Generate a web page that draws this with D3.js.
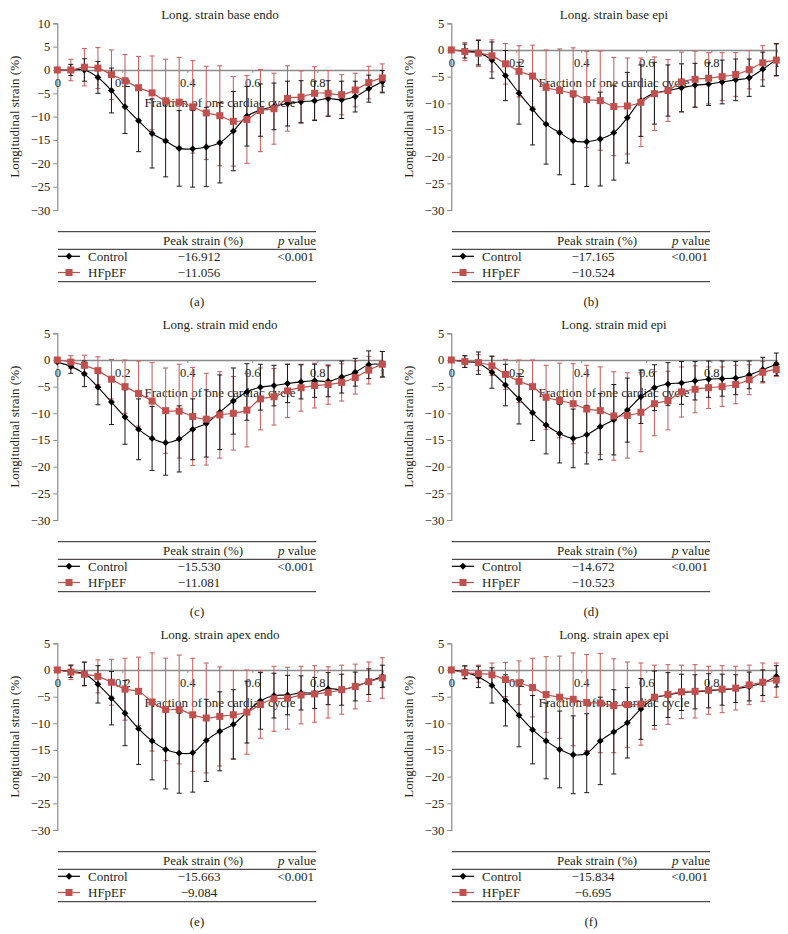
<!DOCTYPE html>
<html><head><meta charset="utf-8">
<script src="https://cdn.jsdelivr.net/npm/d3@7"></script>
<style>
body{margin:0;background:#fff;}
svg text{font-family:"Liberation Serif","Times New Roman",serif;fill:#231f20;}
</style></head>
<body>
<svg id="chart" width="788" height="934"></svg>
<script>
// ---- data ----
const fractions = d3.range(25).map(i => i / 24);
const xTicks = [0, 0.2, 0.4, 0.6, 0.8, 1];
const xTickLabels = ["0", "0.2", "0.4", "0.6", "0.8", "1"];
const panelTitles = ["Long. strain base endo", "Long. strain base epi", "Long. strain mid endo", "Long. strain mid epi", "Long. strain apex endo", "Long. strain apex epi"];
const panelLetters = ["(a)", "(b)", "(c)", "(d)", "(e)", "(f)"];
const yTops = [10, 5, 5, 5, 5, 5];
const peakControl = ["\u221216.912", "\u221217.165", "\u221215.530", "\u221214.672", "\u221215.663", "\u221215.834"];
const peakHFpEF = ["\u221211.056", "\u221210.524", "\u221211.081", "\u221210.523", "\u22129.084", "\u22126.695"];
const pValues = ["<0.001", "<0.001", "<0.001", "<0.001", "<0.001", "<0.001"];

const ctrlA = [0, 0, 0, -1.6, -4.4, -7.9, -10.9, -13.6, -15.2, -16.8, -16.9, -16.5, -15.6, -13.1, -9.9, -8.6, -7.8, -7.2, -6.8, -6.6, -6.1, -6.4, -5.7, -4.0, -2.5];
const ctrlASD = [0, 1.2, 2.4, 3.4, 4.8, 5.7, 6.6, 7.4, 7.7, 8.1, 8.2, 8.5, 8.6, 8.5, 6.4, 5.6, 5.0, 4.8, 4.5, 4.2, 3.8, 4.0, 3.3, 2.9, 2.4];
const hfA = [0, 0, 0.6, 0.4, -1.0, -2.3, -3.8, -4.9, -6.6, -6.9, -7.9, -9.2, -9.8, -11.0, -10.6, -8.7, -8.3, -6.1, -5.8, -5.0, -5.0, -5.3, -4.3, -2.7, -1.7];
const hfASD = [0, 2.3, 4.0, 4.4, 5.3, 5.6, 6.7, 7.9, 8.9, 9.6, 9.9, 10.0, 10.7, 9.6, 9.4, 8.8, 7.6, 7.0, 5.6, 5.7, 4.9, 4.3, 3.6, 3.5, 3.0];

const ctrlB = [0, -0.2, -0.5, -1.9, -4.8, -8.1, -11.1, -13.9, -15.5, -17.0, -17.2, -16.7, -15.5, -12.7, -9.5, -8.1, -7.6, -7.1, -6.6, -6.4, -6.0, -5.6, -5.2, -3.6, -1.8];
const ctrlBSD = [0, 1.3, 2.3, 3.4, 4.7, 5.8, 6.7, 7.5, 7.9, 8.2, 8.4, 8.8, 8.9, 8.5, 6.7, 5.8, 4.8, 4.5, 4.1, 4.0, 4.1, 3.9, 3.5, 3.2, 3.0];
const hfB = [0, -0.3, -0.6, -1.1, -2.6, -4.0, -4.9, -7.0, -7.6, -8.2, -9.3, -9.5, -10.6, -10.5, -9.8, -8.2, -7.6, -6.0, -5.5, -5.3, -5.0, -4.6, -3.7, -2.4, -1.9];
const hfBSD = [0, 1.7, 2.5, 3.0, 3.8, 4.8, 5.8, 7.0, 7.8, 8.6, 9.0, 9.3, 9.2, 9.0, 8.3, 6.9, 5.8, 5.6, 5.3, 4.8, 4.5, 4.1, 3.6, 3.2, 3.0];

const ctrlC = [-0.4, -1.2, -2.6, -5.1, -7.9, -10.7, -13.0, -14.7, -15.5, -14.8, -13.0, -11.9, -9.8, -7.7, -6.0, -5.1, -4.8, -4.4, -4.1, -3.9, -4.0, -3.2, -2.3, -0.9, -0.8];
const ctrlCSD = [0, 1.3, 2.4, 3.3, 4.2, 5.1, 5.7, 6.0, 6.1, 6.2, 5.7, 6.3, 7.0, 6.2, 5.3, 4.3, 3.8, 3.6, 3.2, 3.1, 2.9, 3.0, 2.6, 2.6, 2.4];
const hfC = [0, -0.4, -1.0, -2.0, -3.6, -5.0, -6.3, -7.7, -9.5, -9.6, -10.6, -11.1, -10.3, -10.0, -9.4, -7.3, -6.9, -5.8, -5.2, -4.8, -4.6, -4.2, -3.3, -1.9, -0.8];
const hfCSD = [0, 1.2, 1.9, 2.6, 3.7, 5.0, 6.1, 7.2, 8.0, 8.8, 9.2, 8.6, 8.1, 6.9, 6.9, 5.8, 5.3, 5.0, 4.4, 4.2, 3.7, 3.5, 3.1, 2.6, 2.4];

const ctrlD = [0, -0.3, -0.6, -2.3, -4.7, -7.3, -9.9, -12.2, -13.8, -14.7, -14.0, -12.5, -11.2, -9.4, -6.9, -5.2, -4.5, -4.3, -3.9, -3.6, -3.5, -3.4, -2.8, -1.8, -0.8];
const ctrlDSD = [0, 1.1, 2.1, 3.0, 3.9, 4.7, 5.2, 5.4, 5.5, 5.5, 5.5, 6.2, 6.6, 6.0, 5.0, 4.3, 4.0, 4.0, 3.6, 3.4, 3.3, 3.1, 2.6, 2.3, 2.1];
const hfD = [0, -0.3, -0.5, -1.1, -2.7, -4.0, -5.0, -7.0, -7.6, -8.2, -9.2, -9.5, -10.5, -10.4, -9.8, -8.2, -7.6, -6.0, -5.5, -5.2, -5.0, -4.6, -3.7, -2.3, -1.8];
const hfDSD = [0, 1.1, 1.5, 1.8, 2.8, 4.0, 5.0, 6.0, 7.0, 7.5, 8.2, 8.2, 8.3, 8.0, 7.4, 6.0, 5.5, 4.7, 4.4, 3.9, 3.7, 3.6, 2.8, 2.0, 1.3];

const ctrlE = [0, -0.3, -0.7, -2.7, -5.3, -8.1, -11.0, -13.3, -14.9, -15.6, -15.5, -13.2, -11.5, -10.2, -7.9, -5.8, -4.8, -4.7, -4.3, -4.3, -3.5, -3.7, -3.1, -2.2, -1.2];
const ctrlESD = [0, 1.1, 2.2, 3.5, 5.0, 6.1, 6.7, 7.3, 7.4, 7.5, 7.4, 7.7, 7.4, 6.5, 5.8, 5.3, 4.2, 3.7, 3.2, 2.9, 3.0, 2.9, 2.7, 2.4, 2.1];
const hfE = [0, -0.4, -0.8, -1.2, -2.3, -3.6, -4.0, -6.0, -7.4, -7.4, -8.4, -9.0, -8.7, -8.4, -7.9, -6.5, -5.4, -5.3, -4.7, -4.5, -4.2, -3.7, -3.1, -2.2, -1.5];
const hfESD = [0, 1.4, 2.2, 3.1, 4.3, 5.8, 6.4, 9.2, 9.6, 10.2, 10.6, 10.3, 9.3, 8.3, 7.9, 6.3, 6.1, 5.8, 5.4, 5.3, 4.8, 4.6, 4.2, 3.7, 3.8];

const ctrlF = [0, -0.4, -1.3, -2.9, -5.7, -8.5, -11.2, -13.3, -14.9, -15.9, -15.6, -13.3, -11.6, -9.9, -7.3, -5.3, -4.7, -4.2, -4.1, -3.9, -3.7, -3.5, -3.1, -2.4, -1.2];
const ctrlFSD = [0, 1.2, 2.0, 3.3, 4.8, 5.9, 6.4, 7.1, 7.2, 7.3, 7.4, 8.2, 7.9, 6.6, 5.7, 5.1, 4.2, 3.4, 3.2, 3.2, 2.9, 2.6, 2.7, 2.4, 2.0];
const hfF = [0, -0.5, -0.7, -0.9, -1.8, -2.4, -3.3, -4.6, -5.1, -5.5, -6.1, -6.2, -6.7, -6.5, -6.4, -5.1, -4.6, -4.1, -4.0, -3.8, -3.6, -3.4, -2.8, -2.3, -1.9];
const hfFSD = [0, 1.2, 1.6, 2.2, 3.2, 4.1, 5.5, 7.1, 7.7, 8.7, 9.0, 9.3, 8.8, 8.0, 7.7, 6.0, 5.6, 5.0, 5.0, 4.5, 4.4, 4.1, 3.7, 3.6, 3.2];

const controlMeans = [ctrlA, ctrlB, ctrlC, ctrlD, ctrlE, ctrlF];
const controlSDs = [ctrlASD, ctrlBSD, ctrlCSD, ctrlDSD, ctrlESD, ctrlFSD];
const hfMeans = [hfA, hfB, hfC, hfD, hfE, hfF];
const hfSDs = [hfASD, hfBSD, hfCSD, hfDSD, hfESD, hfFSD];

// ---- drawing ----
const svg = d3.select("#chart");
const RED = "#c0504d", RED_BAR = "#c96663", AXIS = "#8a8a8a", INK = "#231f20";
const FS = 13, TFS = 12.5;

panelTitles.forEach((title, p) => {
  const ox = (p % 2) * 394, oy = Math.floor(p / 2) * 310;
  const g = svg.append("g").attr("transform", `translate(${ox},${oy})`);
  const x = d3.scaleLinear().domain([0, 1]).range([57.3, 382.3]);
  const y = d3.scaleLinear().domain([yTops[p], -30]).range([23.3, 210]);

  g.append("text").attr("x", 220).attr("y", 18.5).attr("text-anchor", "middle")
    .attr("font-size", FS).text(title);

  // y axis
  const yAxis = d3.axisLeft(y).tickValues(d3.range(-30, yTops[p] + 1, 5)).tickSize(4).tickPadding(3)
    .tickFormat(d => d < 0 ? "\u2212" + Math.abs(d) : String(d));
  const ya = g.append("g").attr("transform", `translate(${x(0)},0)`).call(yAxis);
  ya.select(".domain").attr("stroke", AXIS).attr("stroke-width", 1.2);
  ya.selectAll(".tick line").attr("stroke", AXIS);
  ya.selectAll(".tick text").attr("font-size", TFS).attr("fill", INK)
    .style("font-family", '"Liberation Serif", serif');

  g.append("text").attr("transform", `translate(19,${(y.range()[0] + y.range()[1]) / 2}) rotate(-90)`)
    .attr("text-anchor", "middle").attr("font-size", FS).text("Longitudinal strain (%)");

  // x axis at y=0
  const xAxis = d3.axisBottom(x).tickValues(xTicks).tickSize(3).tickPadding(5)
    .tickFormat((d, i) => xTickLabels[i]);
  const xa = g.append("g").attr("transform", `translate(0,${y(0)})`).call(xAxis);
  xa.select(".domain").attr("stroke", AXIS).attr("stroke-width", 1.5);
  xa.selectAll(".tick line").attr("stroke", AXIS);
  xa.selectAll(".tick text").attr("font-size", TFS).attr("fill", INK)
    .style("font-family", '"Liberation Serif", serif');

  g.append("text").attr("x", 220).attr("y", y(0) + 37.5).attr("text-anchor", "middle")
    .attr("font-size", FS).text("Fraction of one cardiac cycle");

  const series = [
    {m: hfMeans[p], s: hfSDs[p], bar: RED_BAR, w: 1.1},
    {m: controlMeans[p], s: controlSDs[p], bar: "#1a1a1a", w: 1}
  ];
  series.forEach(sr => {
    const eb = g.append("g");
    fractions.forEach((f, i) => {
      const sd = sr.s[i];
      if (sd <= 0) return;
      const cx = x(f), y1 = y(sr.m[i] + sd), y2 = y(sr.m[i] - sd);
      eb.append("line").attr("x1", cx).attr("x2", cx).attr("y1", y1).attr("y2", y2)
        .attr("stroke", sr.bar).attr("stroke-width", sr.w);
      [y1, y2].forEach(yy => eb.append("line").attr("x1", cx - 2.5).attr("x2", cx + 2.5)
        .attr("y1", yy).attr("y2", yy).attr("stroke", sr.bar).attr("stroke-width", sr.w));
    });
  });

  const line = d3.line().x((d, i) => x(fractions[i])).y(d => y(d)).curve(d3.curveCatmullRom.alpha(0.5));
  // control
  g.append("path").datum(controlMeans[p]).attr("d", line).attr("fill", "none")
    .attr("stroke", "#000").attr("stroke-width", 1.1);
  g.selectAll(null).data(controlMeans[p]).enter().append("path")
    .attr("d", d3.symbol(d3.symbolDiamond2, 30))
    .attr("transform", (d, i) => `translate(${x(fractions[i])},${y(d)})`).attr("fill", "#000");
  // HFpEF
  g.append("path").datum(hfMeans[p]).attr("d", line).attr("fill", "none")
    .attr("stroke", RED).attr("stroke-width", 1.2);
  g.selectAll(null).data(hfMeans[p]).enter().append("rect")
    .attr("x", (d, i) => x(fractions[i]) - 3.5).attr("y", d => y(d) - 3.5)
    .attr("width", 7).attr("height", 7).attr("fill", RED);

  // table
  const t = g.append("g");
  [231.7, 249.3, 281.7].forEach(yy => t.append("line").attr("x1", 58).attr("x2", 316)
    .attr("y1", yy).attr("y2", yy).attr("stroke", INK).attr("stroke-width", 1));
  t.append("text").attr("x", 203).attr("y", 244.8).attr("text-anchor", "middle").attr("font-size", FS).text("Peak strain (%)");
  const pv = t.append("text").attr("x", 316).attr("y", 244.8).attr("text-anchor", "end").attr("font-size", FS);
  pv.append("tspan").attr("font-style", "italic").text("p");
  pv.append("tspan").text(" value");
  const rows = [
    {cy: 256.3, label: "Control", val: peakControl[p], pval: pValues[p], color: "#000"},
    {cy: 272.5, label: "HFpEF", val: peakHFpEF[p], pval: "", color: RED}
  ];
  rows.forEach((r, k) => {
    t.append("line").attr("x1", 58).attr("x2", 80).attr("y1", r.cy).attr("y2", r.cy)
      .attr("stroke", r.color).attr("stroke-width", 1.2);
    if (k === 0) t.append("path").attr("d", d3.symbol(d3.symbolDiamond2, 30))
      .attr("transform", `translate(69,${r.cy})`).attr("fill", "#000");
    else t.append("rect").attr("x", 65.5).attr("y", r.cy - 3.5).attr("width", 7).attr("height", 7).attr("fill", RED);
    t.append("text").attr("x", 88).attr("y", r.cy + 4.4).attr("font-size", FS).text(r.label);
    t.append("text").attr("x", 199).attr("y", r.cy + 4.4).attr("text-anchor", "middle").attr("font-size", FS).text(r.val);
    if (r.pval) t.append("text").attr("x", 314).attr("y", r.cy + 4.4).attr("text-anchor", "end").attr("font-size", FS).text(r.pval);
  });
  g.append("text").attr("x", 197).attr("y", 305.5).attr("text-anchor", "middle").attr("font-size", FS).text(panelLetters[p]);
});
</script>
</body></html>
